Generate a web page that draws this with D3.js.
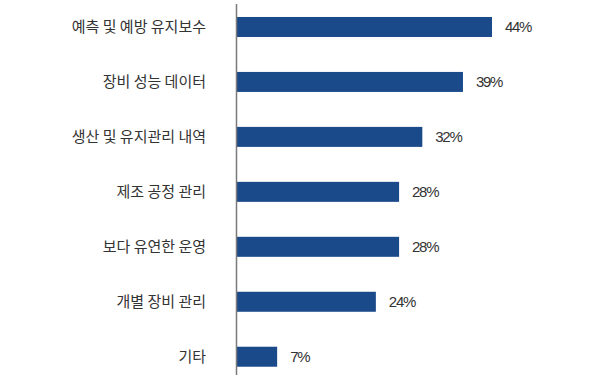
<!DOCTYPE html>
<html><head><meta charset="utf-8">
<script src="https://cdn.jsdelivr.net/npm/d3@7"></script>
<style>html,body{margin:0;padding:0;background:#fff;}svg{display:block;}</style>
</head><body>
<svg id="c" width="600" height="392"></svg>
<script>
const categories = ["예측 및 예방 유지보수","장비 성능 데이터","생산 및 유지관리 내역","제조 공정 관리","보다 유연한 운영","개별 장비 관리","기타"];
const values = [44, 39, 32, 28, 28, 24, 7];
const valueLabels = ["44%","39%","32%","28%","28%","24%","7%"];

const svg = d3.select("#c");
const x0 = 236.5;
const x = d3.scaleLinear().domain([0, 44]).range([x0, 492]);
const y = d3.scaleBand().domain(categories).range([-0.5, 384.2]).paddingInner(0.636).paddingOuter(0.318);

svg.selectAll("rect.bar").data(values).enter().append("rect")
  .attr("class","bar")
  .attr("x", x(0))
  .attr("y", (d,i)=>y(categories[i]))
  .attr("width", d=>x(d)-x(0))
  .attr("height", y.bandwidth())
  .attr("fill","#1b4a8b");

svg.append("line").attr("x1",x0).attr("x2",x0).attr("y1",4).attr("y2",375)
  .attr("stroke","#7a7a7a").attr("stroke-width",1.5);

svg.selectAll("text.cat").data(categories).enter().append("text")
  .attr("class","cat")
  .attr("x", 206)
  .attr("y", d=>y(d)+y.bandwidth()/2)
  .attr("dy","0.36em")
  .attr("text-anchor","end")
  .attr("font-family","'Noto Sans CJK KR', sans-serif")
  .attr("font-size","15px")
  .attr("fill","#333")
  .text(d=>d);

svg.selectAll("text.val").data(values).enter().append("text")
  .attr("class","val")
  .attr("x", d=>x(d)+13)
  .attr("y", (d,i)=>y(categories[i])+y.bandwidth()/2)
  .attr("dy","0.36em")
  .attr("font-family","'Liberation Sans', Arial, sans-serif")
  .attr("font-size","15px")
  .attr("letter-spacing","-1.3px")
  .attr("fill","#333")
  .text((d,i)=>valueLabels[i]);
</script>
</body></html>
